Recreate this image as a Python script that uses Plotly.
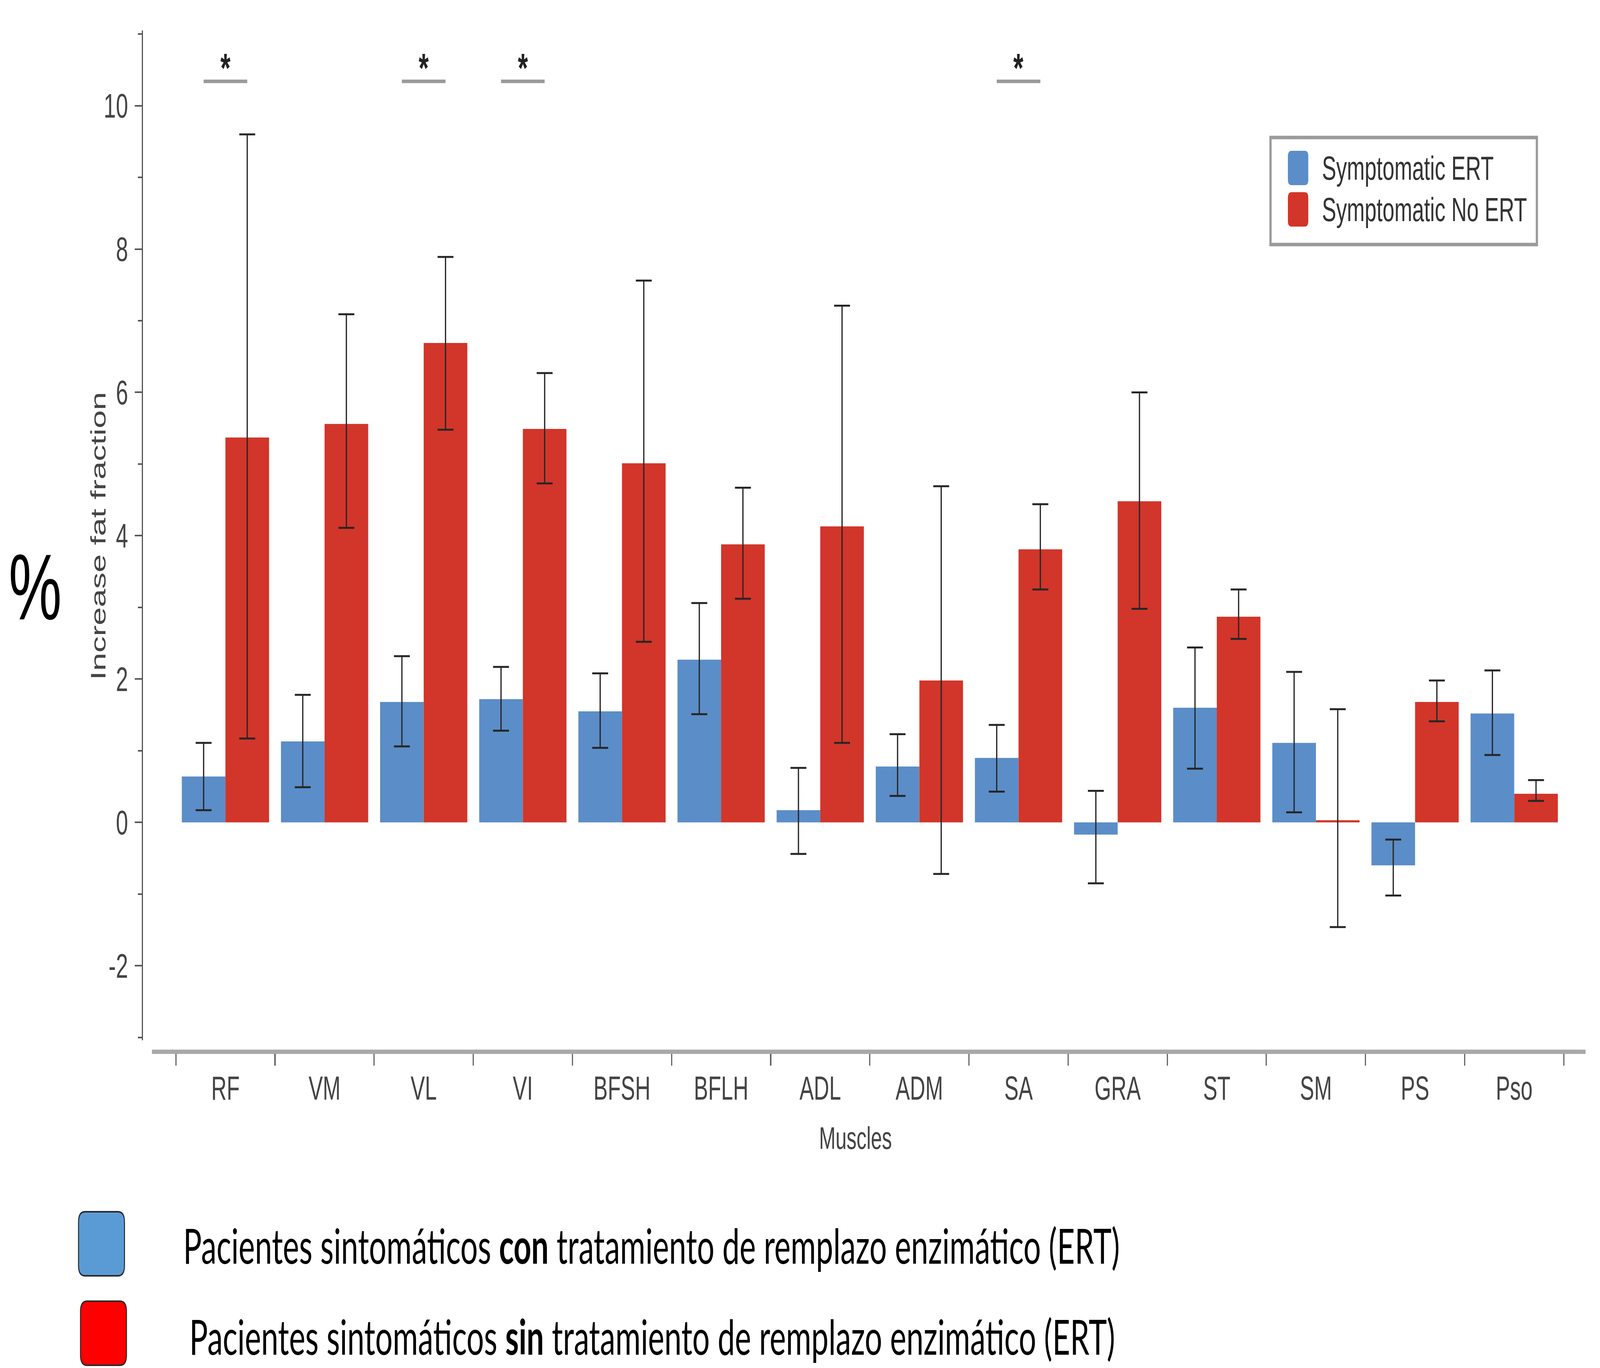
import plotly.graph_objects as go

# ---------------- data ----------------
muscles = ["RF", "VM", "VL", "VI", "BFSH", "BFLH", "ADL", "ADM", "SA", "GRA", "ST", "SM", "PS", "Pso"]
ert_mean = [0.64, 1.13, 1.68, 1.72, 1.55, 2.27, 0.17, 0.78, 0.90, -0.17, 1.60, 1.11, -0.60, 1.52]
ert_upper = [1.11, 1.78, 2.32, 2.17, 2.08, 3.06, 0.76, 1.23, 1.36, 0.44, 2.44, 2.10, -0.24, 2.12]
ert_lower = [0.17, 0.49, 1.06, 1.28, 1.04, 1.51, -0.44, 0.37, 0.43, -0.85, 0.75, 0.14, -1.02, 0.94]
noert_mean = [5.37, 5.56, 6.69, 5.49, 5.01, 3.88, 4.13, 1.98, 3.81, 4.48, 2.87, 0.03, 1.68, 0.40]
noert_upper = [9.60, 7.09, 7.89, 6.27, 7.56, 4.67, 7.21, 4.69, 4.44, 6.00, 3.25, 1.58, 1.98, 0.59]
noert_lower = [1.17, 4.11, 5.48, 4.73, 2.52, 3.12, 1.11, -0.72, 3.25, 2.98, 2.56, -1.46, 1.41, 0.30]
significant = ["RF", "VL", "VI", "SA"]
y_ticks = [-2, 0, 2, 4, 6, 8, 10]

series_names = ["Symptomatic ERT", "Symptomatic No ERT"]
bottom_labels = [
    "Pacientes sintomáticos <b>con</b> tratamiento de remplazo enzimático (ERT)",
    "Pacientes sintomáticos <b>sin</b> tratamiento de remplazo enzimático (ERT)",
]

# ---------------- styling ----------------
W, H = 6439, 3502
L, R, T, B = 573, 58, 78, 810
PW, PH = W - L - R, H - T - B
BLUE = "#5B8DC8"
RED = "#D2352A"
TXT = "#444444"
FONT = "Liberation Sans, Arial, sans-serif"


def px(x):
    return (x - L) / PW


def py(y):
    return (H - B - y) / PH


def err(mean, up, lo):
    return dict(type="data", symmetric=False,
                array=[u - m for u, m in zip(up, mean)],
                arrayminus=[m - l for m, l in zip(mean, lo)],
                color="#262626", thickness=5, width=32)


fig = go.Figure()
fig.add_trace(go.Bar(x=muscles, y=ert_mean, name=series_names[0], marker_color=BLUE,
                     marker_line_width=0, error_y=err(ert_mean, ert_upper, ert_lower),
                     showlegend=False))
fig.add_trace(go.Bar(x=muscles, y=noert_mean, name=series_names[1], marker_color=RED,
                     marker_line_width=0, error_y=err(noert_mean, noert_upper, noert_lower),
                     showlegend=False))

shapes = []
annotations = []

# significance markers
for m in significant:
    i = muscles.index(m)
    shapes.append(dict(type="line", xref="x", yref="y", x0=i - 0.22, x1=i + 0.22,
                       y0=10.34, y1=10.34, line=dict(color="#9a9a9a", width=9)))
    annotations.append(dict(x=i, y=10.34, xref="x", yref="y", text="<b>*</b>", showarrow=False,
                            xanchor="center", yanchor="bottom", yshift=-26,
                            font=dict(size=104, color="#222222", family=FONT)))


def rrect(x0, y0, x1, y1, r):
    """rounded rectangle path in paper coords from pixel coords"""
    rx = r / PW
    ry = r / PH
    X0, X1 = px(x0), px(x1)
    Y0, Y1 = py(y1), py(y0)  # Y0 bottom, Y1 top
    return (f"M{X0+rx},{Y0} L{X1-rx},{Y0} Q{X1},{Y0} {X1},{Y0+ry} "
            f"L{X1},{Y1-ry} Q{X1},{Y1} {X1-rx},{Y1} L{X0+rx},{Y1} "
            f"Q{X0},{Y1} {X0},{Y1-ry} L{X0},{Y0+ry} Q{X0},{Y0} {X0+rx},{Y0} Z")


# in-chart legend (manual)
shapes.append(dict(type="rect", xref="paper", yref="paper", x0=px(5113), x1=px(6185),
                   y0=py(626), y1=py(352), line=dict(color="#9a9a9a", width=9),
                   fillcolor="white", layer="above"))
for k, (col, cy) in enumerate([(BLUE, 430), (RED, 536)]):
    shapes.append(dict(type="path", xref="paper", yref="paper",
                       path=rrect(5183, cy - 44, 5265, cy + 44, 14),
                       fillcolor=col, line=dict(width=0), layer="above"))
    annotations.append(dict(x=px(5318), y=py(cy), xref="paper", yref="paper",
                            text=series_names[k], showarrow=False, xanchor="left",
                            yanchor="middle", font=dict(size=86, color="#333333", family=FONT)))

# bottom legend
for k, (col, y0, y1, x0, x1, tx, ty) in enumerate([
        ("#5B9BD5", 3102, 3266, 316, 501, 735, 3187),
        ("#FF0000", 3331, 3495, 324, 509, 760, 3420)]):
    shapes.append(dict(type="path", xref="paper", yref="paper",
                       path=rrect(x0, y0, x1, y1, 26),
                       fillcolor=col, line=dict(color="#2a2a2a", width=4)))
    annotations.append(dict(x=px(tx), y=py(ty), xref="paper", yref="paper",
                            text=bottom_labels[k], showarrow=False, xanchor="left",
                            yanchor="middle", font=dict(size=124, color="black", family="Lato, sans-serif")))

# axis titles and %
annotations.append(dict(x=px(395), y=py(1372), xref="paper", yref="paper",
                        text="Increase fat fraction", textangle=-90, showarrow=False,
                        xanchor="center", yanchor="middle",
                        font=dict(size=84, color=TXT, family=FONT)))
annotations.append(dict(x=px(3442), y=py(2913), xref="paper", yref="paper",
                        text="Muscles", showarrow=False, xanchor="center", yanchor="middle",
                        font=dict(size=80, color=TXT, family=FONT)))
annotations.append(dict(x=px(141), y=py(1503), xref="paper", yref="paper",
                        text="%", showarrow=False, xanchor="center", yanchor="middle",
                        font=dict(size=240, color="black", family=FONT)))

fig.update_layout(
    width=W, height=H,
    margin=dict(l=L, r=R, t=T, b=B, pad=0),
    paper_bgcolor="white", plot_bgcolor="white",
    barmode="group", bargap=0.12, bargroupgap=0,
    showlegend=False,
    shapes=shapes, annotations=annotations,
    font=dict(family=FONT, color=TXT),
    xaxis=dict(domain=[39 / PW, 1], range=[-0.74, 13.72], anchor="free", position=0,
               showline=True, linecolor="#a8a8a8", linewidth=11,
               ticks="outside", tickson="boundaries", ticklen=30, tickwidth=5, tickcolor="#666666",
               tickfont=dict(size=86, color=TXT, family=FONT), ticklabelstandoff=14,
               showgrid=False, zeroline=False),
    yaxis=dict(domain=[29 / PH, 1], range=[-3.04, 11.05], anchor="free", position=0,
               showline=True, linecolor="#555555", linewidth=5,
               tickmode="array", tickvals=y_ticks, ticktext=[str(v) for v in y_ticks],
               ticks="outside", ticklen=28, tickwidth=4, tickcolor="#555555",
               minor=dict(dtick=1, ticks="outside", ticklen=16, tickwidth=4, tickcolor="#555555"),
               tickfont=dict(size=88, color=TXT, family=FONT), ticklabelstandoff=10,
               showgrid=False, zeroline=False),
)

# map the fixed-size figure onto the whole browser viewport
fit_js = """
var gd = document.getElementById('{plot_id}');
var W = %d, H = %d;
var vw = window.innerWidth, vh = window.innerHeight;
var sx = vw / W, sy = vh / H;
document.documentElement.style.margin = '0';
document.documentElement.style.overflow = 'hidden';
document.body.style.margin = '0';
document.body.style.overflow = 'hidden';
var p = gd.parentElement;
p.style.width = vw + 'px';
p.style.height = vh + 'px';
p.style.overflow = 'hidden';
gd.style.transformOrigin = '0 0';
gd.style.transform = 'scale(' + sx + ',' + sy + ')';
""" % (W, H)

fig.write_html("out.html", post_script=fit_js, config={"displayModeBar": False})
